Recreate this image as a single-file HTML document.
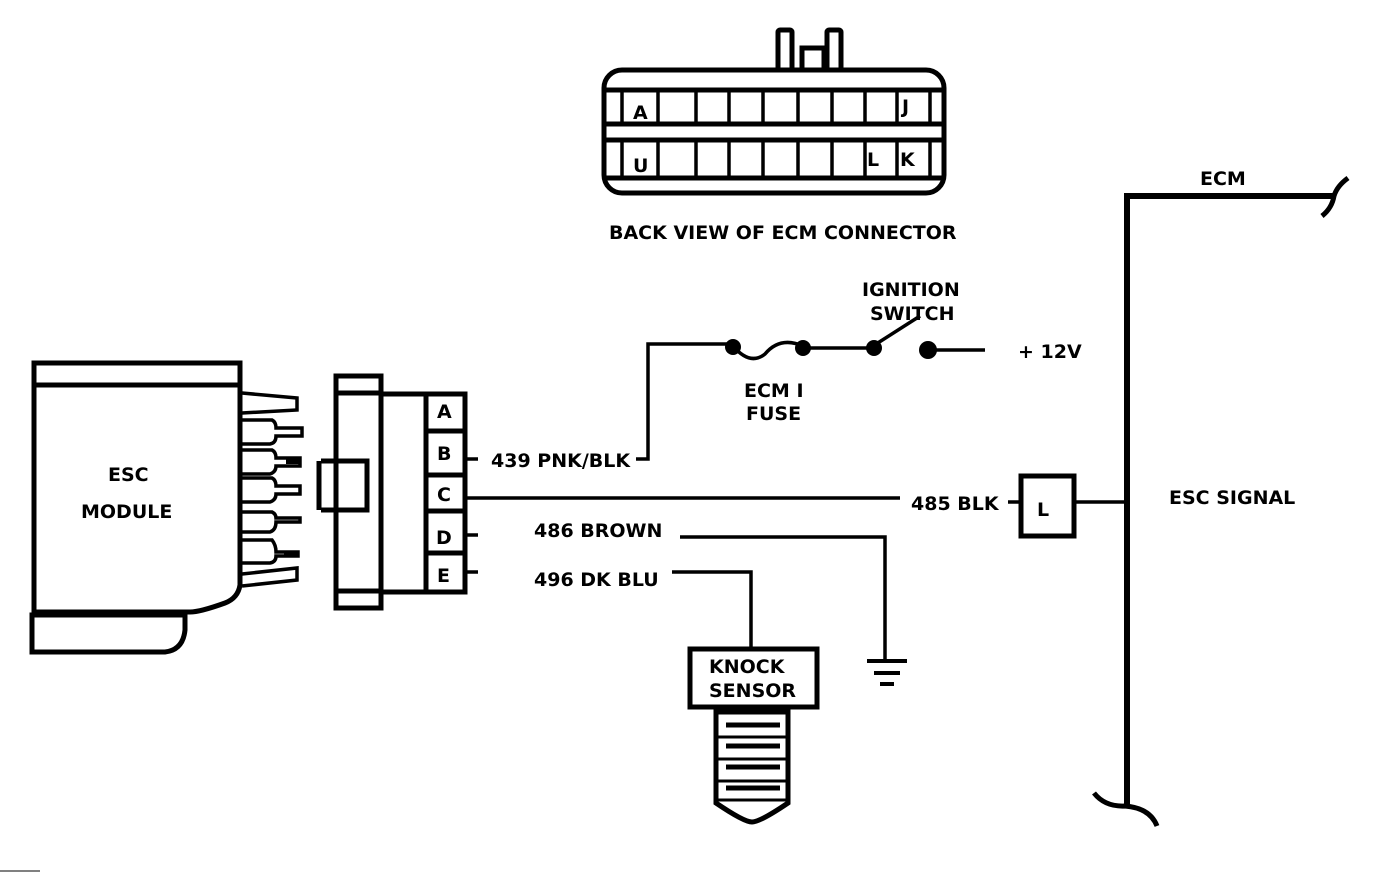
<!DOCTYPE html>
<html><head><style>
html,body{margin:0;padding:0;background:#fff;}
svg{display:block;}
text{font-family:"DejaVu Sans","Liberation Sans",sans-serif;font-weight:bold;fill:#000;font-size:19px;}
</style></head><body>
<svg width="1376" height="872" viewBox="0 0 1376 872" xmlns="http://www.w3.org/2000/svg">
<g fill="none" stroke="#000" stroke-width="5">
<rect x="778" y="30" width="14" height="40" rx="2"/>
<rect x="827" y="30" width="14" height="40" rx="2"/>
<rect x="802" y="48" width="22" height="22"/>
<rect x="604" y="70" width="340" height="123" rx="18"/>
<line x1="606" y1="90" x2="942" y2="90"/>
<line x1="606" y1="124" x2="942" y2="124"/>
<line x1="606" y1="140" x2="942" y2="140"/>
<line x1="606" y1="178" x2="942" y2="178"/>
<g stroke-width="3.5">
<line x1="622" y1="90" x2="622" y2="124"/><line x1="622" y1="140" x2="622" y2="178"/>
<line x1="658" y1="90" x2="658" y2="124"/><line x1="658" y1="140" x2="658" y2="178"/>
<line x1="696" y1="90" x2="696" y2="124"/><line x1="696" y1="140" x2="696" y2="178"/>
<line x1="729" y1="90" x2="729" y2="124"/><line x1="729" y1="140" x2="729" y2="178"/>
<line x1="763" y1="90" x2="763" y2="124"/><line x1="763" y1="140" x2="763" y2="178"/>
<line x1="798" y1="90" x2="798" y2="124"/><line x1="798" y1="140" x2="798" y2="178"/>
<line x1="832" y1="90" x2="832" y2="124"/><line x1="832" y1="140" x2="832" y2="178"/>
<line x1="865" y1="90" x2="865" y2="124"/><line x1="865" y1="140" x2="865" y2="178"/>
<line x1="897" y1="90" x2="897" y2="124"/><line x1="897" y1="140" x2="897" y2="178"/>
<line x1="930" y1="90" x2="930" y2="124"/><line x1="930" y1="140" x2="930" y2="178"/>
</g>
<path d="M34 363 H240 V585 Q238 598 225 603 Q200 612 190 612 H34 Z"/>
<line x1="34" y1="385" x2="240" y2="385"/>
<path d="M32 615 H185 V630 Q183 650 165 652 H32 Z"/>
<g stroke-width="3.5">
<path d="M242 393 L297 398 V410 L242 413"/>
<path d="M242 420 H272 Q276 422 276 428 H302 V436 H276 Q276 443 270 444 H242"/>
<path d="M242 450 H272 Q276 452 276 458 H300 V466 H276 Q276 472 270 474 H242"/>
<path d="M242 478 H272 Q276 480 276 486 H300 V494 H276 Q276 500 270 502 H242"/>
<path d="M242 512 H272 Q276 514 276 518 H300 V522 H276 Q276 530 270 532 H242"/>
<path d="M242 540 H272 Q276 545 276 552 H298 V556 H276 Q276 562 270 563 H242"/>
<path d="M242 574 L297 568 V580 L242 586"/>
</g>
<rect x="286" y="458" width="14" height="6" fill="#000" stroke="none"/>
<rect x="284" y="551" width="14" height="6" fill="#000" stroke="none"/>
<rect x="336" y="376" width="45" height="232"/>
<line x1="338" y1="393" x2="379" y2="393"/>
<line x1="338" y1="591" x2="379" y2="591"/>
<rect x="381" y="394" width="84" height="198"/>
<line x1="426" y1="394" x2="426" y2="592"/>
<line x1="426" y1="431" x2="465" y2="431"/>
<line x1="426" y1="475" x2="465" y2="475"/>
<line x1="426" y1="511" x2="465" y2="511"/>
<line x1="426" y1="553" x2="465" y2="553"/>
<path d="M321 461 H367 V510 H321"/>
<line x1="319" y1="461" x2="319" y2="510"/>
<g stroke-width="3.5">
<line x1="465" y1="459" x2="478" y2="459"/>
<path d="M636 459 H648 V344 H733"/>
<path d="M733 346 Q750 366 765 354 Q780 336 803 346"/>
<line x1="803" y1="348" x2="873" y2="348"/>
<line x1="873" y1="346" x2="920" y2="316"/>
<line x1="928" y1="350" x2="985" y2="350"/>
<line x1="465" y1="498" x2="900" y2="498"/>
<line x1="1075" y1="502" x2="1127" y2="502"/>
<line x1="1008" y1="502" x2="1021" y2="502"/>
<line x1="465" y1="535" x2="478" y2="535"/>
<path d="M680 537 H885 V660"/>
<line x1="465" y1="572" x2="478" y2="572"/>
<path d="M672 572 H751 V648"/>
</g>
<g fill="#000" stroke="none">
<circle cx="733" cy="347" r="8"/><circle cx="803" cy="348" r="8"/>
<circle cx="874" cy="348" r="8"/><circle cx="928" cy="350" r="9"/>
</g>
<rect x="1021" y="476" width="53" height="60" stroke-width="5"/>
<path d="M1127 805 V196 H1333" stroke-width="6"/>
<path d="M1322 216 Q1332 208 1334 196 Q1337 186 1348 178" stroke-width="5"/>
<path d="M1094 793 Q1105 807 1125 806 Q1150 808 1157 826" stroke-width="5"/>
<line x1="867" y1="661" x2="907" y2="661" stroke-width="4"/>
<line x1="874" y1="673" x2="900" y2="673" stroke-width="4"/>
<line x1="880" y1="684" x2="894" y2="684" stroke-width="4"/>
<rect x="690" y="649" width="127" height="58" stroke-width="5"/>
<path d="M716 712 H788 V803 Q760 822 752 822 Q744 822 716 803 Z" stroke-width="5"/>
<line x1="716" y1="737" x2="788" y2="737" stroke-width="3"/>
<line x1="716" y1="759" x2="788" y2="759" stroke-width="3"/>
<line x1="716" y1="781" x2="788" y2="781" stroke-width="3"/>
<line x1="716" y1="800" x2="788" y2="800" stroke-width="3"/>
<g stroke-width="5">
<line x1="726" y1="725" x2="780" y2="725"/>
<line x1="726" y1="746" x2="780" y2="746"/>
<line x1="726" y1="767" x2="780" y2="767"/>
<line x1="726" y1="788" x2="780" y2="788"/>
</g>
</g>
<line x1="0" y1="871" x2="40" y2="871" stroke="#000" stroke-width="1"/>
<g>
<text x="633" y="119" font-size="16">A</text>
<text x="902" y="113" font-size="16">J</text>
<text x="633" y="172" font-size="16">U</text>
<text x="867" y="166" font-size="16">L</text>
<text x="900" y="166" font-size="16">K</text>
<text x="609" y="239" font-size="18">BACK VIEW OF ECM CONNECTOR</text>
<text x="862" y="296" font-size="18">IGNITION</text>
<text x="870" y="320" font-size="18">SWITCH</text>
<text x="1018" y="358" font-size="18">+ 12V</text>
<text x="744" y="397" font-size="18">ECM I</text>
<text x="746" y="420" font-size="18">FUSE</text>
<text x="108" y="481" font-size="18">ESC</text>
<text x="81" y="518" font-size="18">MODULE</text>
<text x="437" y="418" font-size="17">A</text>
<text x="437" y="460" font-size="17">B</text>
<text x="437" y="501" font-size="17">C</text>
<text x="436" y="544" font-size="17">D</text>
<text x="437" y="582" font-size="17">E</text>
<text x="491" y="467" font-size="18">439 PNK/BLK</text>
<text x="911" y="510" font-size="18">485 BLK</text>
<text x="1037" y="516" font-size="21">L</text>
<text x="534" y="537" font-size="18">486 BROWN</text>
<text x="534" y="586" font-size="18">496  DK BLU</text>
<text x="1200" y="185" font-size="18">ECM</text>
<text x="1169" y="504" font-size="18">ESC SIGNAL</text>
<text x="709" y="673" font-size="18">KNOCK</text>
<text x="709" y="697" font-size="18">SENSOR</text>
</g>
</svg>
</body></html>
